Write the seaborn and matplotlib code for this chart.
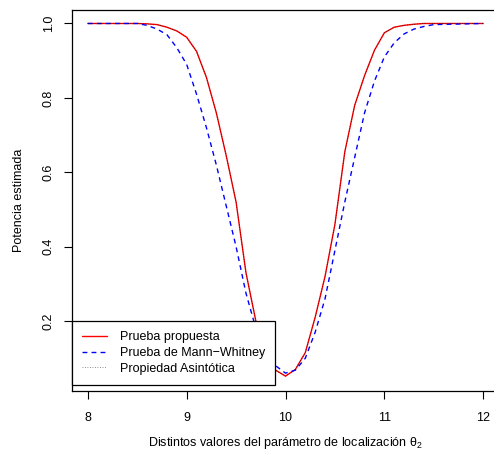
import matplotlib
matplotlib.use("Agg")
import matplotlib.pyplot as plt
import seaborn as sns
import pandas as pd

theta = [8.0, 8.5, 8.6, 8.7, 8.8, 8.9, 9.0, 9.1, 9.2, 9.3, 9.4, 9.5, 9.6, 9.7,
         9.8, 9.9, 10.0, 10.1, 10.2, 10.3, 10.4, 10.5, 10.6, 10.7, 10.8, 10.9,
         11.0, 11.1, 11.2, 11.3, 11.4, 11.5, 12.0]
propuesta = [1.0, 1.0, 0.999, 0.997, 0.99, 0.98, 0.963, 0.925, 0.855, 0.76, 0.645,
             0.52, 0.33, 0.2, 0.11, 0.068, 0.052, 0.07, 0.115, 0.21, 0.32, 0.46,
             0.655, 0.78, 0.86, 0.928, 0.975, 0.99, 0.995, 0.998, 1.0, 1.0, 1.0]
mann_whitney = [1.0, 1.0, 0.995, 0.985, 0.97, 0.935, 0.89, 0.81, 0.72, 0.62, 0.51,
                0.40, 0.275, 0.18, 0.12, 0.08, 0.06, 0.068, 0.10, 0.17, 0.26, 0.39,
                0.52, 0.64, 0.76, 0.845, 0.91, 0.948, 0.972, 0.985, 0.992, 0.997, 1.0]
asintotica = [1.0, 1.0, 0.999, 0.997, 0.99, 0.98, 0.963, 0.925, 0.855, 0.76, 0.645,
              0.52, 0.33, 0.2, 0.11, 0.068, 0.052, 0.07, 0.115, 0.21, 0.32, 0.46,
              0.655, 0.78, 0.86, 0.928, 0.975, 0.99, 0.995, 0.998, 1.0, 1.0, 1.0]
labels = ["Prueba propuesta", "Prueba de Mann\u2212Whitney", "Propiedad Asint\u00f3tica"]
xticks = [8, 9, 10, 11, 12]
yticks = [0.2, 0.4, 0.6, 0.8, 1.0]

sns.set_theme(style="white")
plt.rcParams['font.family'] = ['Liberation Sans', 'DejaVu Sans']
plt.rcParams['mathtext.fontset'] = 'custom'
plt.rcParams['mathtext.rm'] = 'Liberation Sans'
plt.rcParams['mathtext.it'] = 'Liberation Sans'

fs = 9.0
fig = plt.figure(figsize=(4.94, 4.51), dpi=100)
W, H = 494, 451
left, right, top, bottom = 72, 499, 9.5, 391
ax = fig.add_axes([left / W, 1 - bottom / H, (right - left) / W, (bottom - top) / H])

df = pd.DataFrame({"theta": theta, "p": propuesta, "mw": mann_whitney, "as": asintotica})
sns.lineplot(data=df, x="theta", y="p", ax=ax, color="#FF0000", lw=1.0, label=labels[0])
sns.lineplot(data=df, x="theta", y="mw", ax=ax, color="#0000FF", lw=1.0,
             linestyle=(0, (3.5, 3)), label=labels[1])
sns.lineplot(data=df, x="theta", y="as", ax=ax, color="black", lw=0.6,
             linestyle=(0, (1, 2)), label=labels[2], alpha=0.6)

ax.set_xlim(7.84, 12.16)
ax.set_ylim(0.012, 1.0376)
ax.set_xticks(xticks)
ax.set_xticklabels([str(t) for t in xticks])
ax.set_yticks(yticks)
ax.set_yticklabels([f"{t:.1f}" for t in yticks], rotation=90, va="center")
ax.tick_params(axis="both", direction="out", length=5.5, width=0.8, color="black",
               labelsize=fs, labelcolor="black", bottom=True, left=True,
               right=False, top=False)
ax.tick_params(axis="x", pad=9.5)
ax.tick_params(axis="y", pad=7)
for s in ax.spines.values():
    s.set_color("black")
    s.set_linewidth(0.9)

ax.set_xlabel(r"Distintos valores del parámetro de localización $\theta_2$", fontsize=fs, color="black")
ax.set_ylabel("Potencia estimada", fontsize=fs, color="black")
ax.xaxis.set_label_coords((285 - left) / (right - left), -(437 - bottom) / (bottom - top) + 0.005)
ax.yaxis.set_label_coords(-(left - 25) / (right - left), 0.5)
ax.xaxis.label.set_va("top")

yfrac = (0.2 - 0.012) / (1.0376 - 0.012)
leg = ax.legend(loc="upper left", bbox_to_anchor=(0, yfrac), borderaxespad=0,
                fontsize=fs, frameon=True, fancybox=False, framealpha=1,
                edgecolor="black", handlelength=2.0, handletextpad=1.0,
                labelspacing=0.31, borderpad=0.8)
leg.get_frame().set_linewidth(0.9)
leg.get_frame().set_facecolor((1, 1, 1, 0))
leg.get_frame().set_edgecolor("black")
for t in leg.get_texts():
    t.set_color("black")

fig.savefig("out.png", dpi=100)
